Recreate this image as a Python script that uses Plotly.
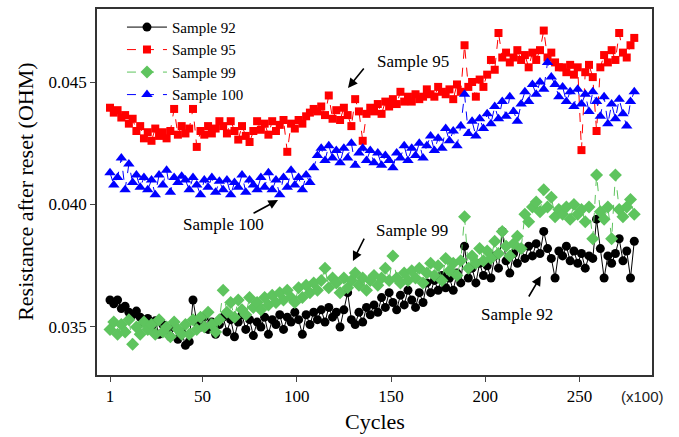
import plotly.graph_objects as go

cycles = list(range(1, 280, 2))

sample_92 = [
    0.03610, 0.03595, 0.03610, 0.03575, 0.03585, 0.03560, 0.03550, 0.03565, 0.03540, 0.03520,
    0.03535, 0.03500, 0.03525, 0.03470, 0.03510, 0.03490, 0.03460, 0.03500, 0.03450, 0.03480,
    0.03425, 0.03440, 0.03610, 0.03520, 0.03500, 0.03540, 0.03490, 0.03520, 0.03470, 0.03510,
    0.03540, 0.03480, 0.03530, 0.03460, 0.03520, 0.03550, 0.03490, 0.03530, 0.03465, 0.03520,
    0.03500, 0.03540, 0.03470, 0.03530, 0.03510, 0.03550, 0.03490, 0.03540, 0.03520, 0.03560,
    0.03530, 0.03470, 0.03550, 0.03510, 0.03560, 0.03530, 0.03570, 0.03520, 0.03580, 0.03540,
    0.03560, 0.03500, 0.03570, 0.03640, 0.03530, 0.03510, 0.03560, 0.03520, 0.03580, 0.03550,
    0.03590, 0.03560, 0.03620, 0.03580, 0.03640, 0.03600, 0.03570, 0.03630, 0.03590, 0.03650,
    0.03610, 0.03580, 0.03640, 0.03600, 0.03680, 0.03640, 0.03690, 0.03650, 0.03710, 0.03660,
    0.03700, 0.03650, 0.03720, 0.03680, 0.03830, 0.03700, 0.03740, 0.03680, 0.03760, 0.03710,
    0.03750, 0.03700, 0.03790, 0.03740, 0.03890, 0.03770, 0.03720, 0.03800, 0.03760, 0.03820,
    0.03780, 0.03830, 0.03790, 0.03840, 0.03800, 0.03890, 0.03820, 0.03780, 0.03700, 0.03810,
    0.03790, 0.03830, 0.03770, 0.03810, 0.03760, 0.03800, 0.03740, 0.03790, 0.03780, 0.03940,
    0.03820, 0.03700, 0.03790, 0.03760, 0.03800, 0.03860, 0.03770, 0.03810, 0.03700, 0.03850,
]

sample_95 = [
    0.04395, 0.04375, 0.04385, 0.04355, 0.04365, 0.04330, 0.04350, 0.04300, 0.04320, 0.04270,
    0.04295, 0.04260, 0.04310, 0.04280, 0.04295, 0.04270, 0.04300, 0.04390, 0.04285, 0.04320,
    0.04290, 0.04310, 0.04390, 0.04235, 0.04300, 0.04285, 0.04320, 0.04290, 0.04310, 0.04340,
    0.04320, 0.04290, 0.04340, 0.04300, 0.04265, 0.04320, 0.04280, 0.04255, 0.04300, 0.04340,
    0.04305, 0.04330, 0.04285, 0.04340, 0.04300, 0.04325, 0.04345, 0.04215, 0.04330, 0.04310,
    0.04345, 0.04330, 0.04360, 0.04375, 0.04390, 0.04380, 0.04400, 0.04365, 0.04445, 0.04350,
    0.04385, 0.04345, 0.04395, 0.04365, 0.04320, 0.04430, 0.04380, 0.04260, 0.04370, 0.04395,
    0.04380, 0.04410, 0.04370, 0.04420, 0.04400, 0.04430, 0.04410, 0.04460, 0.04420, 0.04440,
    0.04420, 0.04450, 0.04430, 0.04440, 0.04470, 0.04450, 0.04440, 0.04480, 0.04460, 0.04450,
    0.04470, 0.04430, 0.04490, 0.04460, 0.04650, 0.04480, 0.04500, 0.04440, 0.04510, 0.04480,
    0.04530, 0.04590, 0.04550, 0.04700, 0.04600, 0.04620, 0.04580, 0.04600, 0.04630, 0.04590,
    0.04610, 0.04560, 0.04620, 0.04590, 0.04630, 0.04710, 0.04600, 0.04620, 0.04580, 0.04560,
    0.04560, 0.04540, 0.04570, 0.04530, 0.04560, 0.04222, 0.04540, 0.04570, 0.04520, 0.04300,
    0.04560, 0.04610, 0.04580, 0.04630, 0.04590, 0.04700, 0.04620, 0.04600, 0.04650, 0.04680,
]

sample_99 = [
    0.03490, 0.03520, 0.03470, 0.03510, 0.03480, 0.03530, 0.03430, 0.03500, 0.03470, 0.03520,
    0.03490, 0.03510, 0.03470, 0.03530, 0.03480, 0.03500, 0.03460, 0.03520, 0.03490, 0.03470,
    0.03510, 0.03470, 0.03530, 0.03490, 0.03540, 0.03500, 0.03560, 0.03510, 0.03480, 0.03530,
    0.03650, 0.03560, 0.03600, 0.03540, 0.03610, 0.03570, 0.03550, 0.03620, 0.03580, 0.03600,
    0.03570, 0.03620, 0.03590, 0.03630, 0.03600, 0.03640, 0.03610, 0.03650, 0.03620, 0.03600,
    0.03660, 0.03620, 0.03670, 0.03640, 0.03680, 0.03650, 0.03690, 0.03740, 0.03660, 0.03700,
    0.03680, 0.03640, 0.03700, 0.03660, 0.03690, 0.03720, 0.03670, 0.03700, 0.03650, 0.03690,
    0.03710, 0.03670, 0.03700, 0.03740, 0.03690, 0.03790, 0.03700, 0.03680, 0.03720, 0.03690,
    0.03730, 0.03700, 0.03740, 0.03680, 0.03720, 0.03760, 0.03710, 0.03750, 0.03690, 0.03780,
    0.03730, 0.03760, 0.03710, 0.03770, 0.03950, 0.03740, 0.03790, 0.03760, 0.03820, 0.03770,
    0.03810, 0.03780, 0.03850, 0.03800, 0.03890, 0.03830, 0.03790, 0.03840, 0.03870, 0.03820,
    0.03960, 0.03930, 0.03990, 0.04010, 0.03970, 0.04060, 0.03990, 0.04030, 0.03950, 0.03980,
    0.03960, 0.03990, 0.03940, 0.04000, 0.03960, 0.03980, 0.03930, 0.03990, 0.03860, 0.04120,
    0.03970, 0.03940, 0.03990, 0.03860, 0.04120, 0.03980, 0.03950, 0.03990, 0.04020, 0.03960,
]

sample_100 = [
    0.04130, 0.04080, 0.04110, 0.04190, 0.04060, 0.04165, 0.04090, 0.04120, 0.04070, 0.04110,
    0.04060, 0.04100, 0.04040, 0.04120, 0.04080, 0.04140, 0.04050, 0.04110, 0.04090, 0.04115,
    0.04100, 0.04060, 0.04110, 0.04080, 0.04040, 0.04100, 0.04070, 0.04110, 0.04050, 0.04095,
    0.04060, 0.04100, 0.04040, 0.04090, 0.04070, 0.04120, 0.04050, 0.04100, 0.04080, 0.04060,
    0.04110, 0.04070, 0.04130, 0.04060, 0.04100, 0.04040, 0.04110, 0.04070, 0.04140, 0.04080,
    0.04110, 0.04060, 0.04120, 0.04090, 0.04150, 0.04200, 0.04230, 0.04180, 0.04240, 0.04190,
    0.04220, 0.04170, 0.04230, 0.04190, 0.04250, 0.04160, 0.04210, 0.04230, 0.04180, 0.04220,
    0.04170, 0.04210, 0.04160, 0.04200, 0.04180, 0.04150, 0.04210, 0.04190, 0.04240, 0.04180,
    0.04230, 0.04200, 0.04250, 0.04190, 0.04240, 0.04280, 0.04220, 0.04270, 0.04230, 0.04310,
    0.04260, 0.04300, 0.04240, 0.04320, 0.04450, 0.04290, 0.04340, 0.04280, 0.04350, 0.04310,
    0.04370, 0.04330, 0.04400, 0.04350, 0.04420, 0.04360, 0.04440, 0.04380, 0.04340, 0.04410,
    0.04460, 0.04420, 0.04490, 0.04450, 0.04500, 0.04470, 0.04580, 0.04520, 0.04490, 0.04440,
    0.04480, 0.04420, 0.04460, 0.04400, 0.04470, 0.04410, 0.04450, 0.04380, 0.04460, 0.04420,
    0.04360, 0.04440, 0.04330, 0.04410, 0.04350, 0.04430, 0.04370, 0.04320, 0.04420, 0.04460,
]

x_ticks = [1, 50, 100, 150, 200, 250]
y_ticks = [0.035, 0.040, 0.045]

SERIF = "Liberation Serif, Times New Roman, serif"

fig = go.Figure()
series = [
    ("Sample 92", sample_92, "#000000", "solid", "circle", 9),
    ("Sample 95", sample_95, "#ff0000", "dash", "square", 8),
    ("Sample 99", sample_99, "#5ec45e", "dash", "diamond", 10),
    ("Sample 100", sample_100, "#0000ff", "dash", "triangle-up", 10),
]
for name, vals, color, dash, sym, size in series:
    fig.add_trace(go.Scatter(
        x=cycles, y=vals, name=name, mode="lines+markers",
        line=dict(color=color, width=1, dash=dash),
        marker=dict(color=color, symbol=sym, size=size, line=dict(width=0)),
    ))

arrows = [
    ("Sample 95", 127.2, 0.04476, 17, -21, 161.7, 0.04582),
    ("Sample 100", 90.1, 0.04018, -26, 14, 61.4, 0.03920),
    ("Sample 99", 129.8, 0.03769, 12, -24, 161.1, 0.03892),
    ("Sample 92", 229.5, 0.03708, -13, 22, 216.8, 0.03549),
]
for text, hx, hy, ax, ay, tx, ty in arrows:
    fig.add_annotation(x=hx, y=hy, ax=ax, ay=ay, axref="pixel", ayref="pixel",
                       text="", showarrow=True, arrowhead=2, arrowsize=1.2,
                       arrowwidth=1.6, arrowcolor="black")
    fig.add_annotation(x=tx, y=ty, text=text, showarrow=False,
                       font=dict(family=SERIF, size=17, color="black"))

fig.add_annotation(x=0.982, y=-0.060, xref="paper", yref="paper", xanchor="center",
                   yanchor="middle", text="(x100)", showarrow=False,
                   font=dict(family="Liberation Sans, Arial, sans-serif", size=15, color="#222"))
fig.add_annotation(x=0.5, y=-0.128, xref="paper", yref="paper", xanchor="center",
                   yanchor="middle", text="Cycles", showarrow=False,
                   font=dict(family=SERIF, size=22, color="black"))
fig.add_annotation(x=-0.130, y=0.5, xref="paper", yref="paper", xanchor="center",
                   yanchor="middle", text="Resistance after reset (OHM)", textangle=-90,
                   showarrow=False, font=dict(family=SERIF, size=22, color="black"))

fig.update_layout(
    width=679, height=437,
    margin=dict(l=97, r=27, t=9, b=62, autoexpand=False),
    paper_bgcolor="white", plot_bgcolor="white",
    font=dict(family=SERIF, size=17, color="black"),
    showlegend=True,
    legend=dict(x=0.045, y=0.995, xanchor="left", yanchor="top",
                bgcolor="rgba(0,0,0,0)", font=dict(family=SERIF, size=15),
                tracegroupgap=0, itemwidth=40),
    xaxis=dict(range=[-5.9, 288.4], tickvals=x_ticks, ticks="outside", ticklen=5,
               showline=True, linecolor="#333", linewidth=1.5, mirror=True,
               showgrid=False, zeroline=False, automargin=False,
               tickfont=dict(family=SERIF, size=17)),
    yaxis=dict(range=[0.03304, 0.04798], tickvals=y_ticks, tickformat=".3f",
               ticks="outside", ticklen=5,
               showline=True, linecolor="#333", linewidth=1.5, mirror=True,
               showgrid=False, zeroline=False, automargin=False,
               tickfont=dict(family=SERIF, size=17)),
)

fig.write_html(
    "out.html",
    config={"displayModeBar": False},
    post_script="document.body.style.margin='0';document.body.style.overflow='hidden';",
)
